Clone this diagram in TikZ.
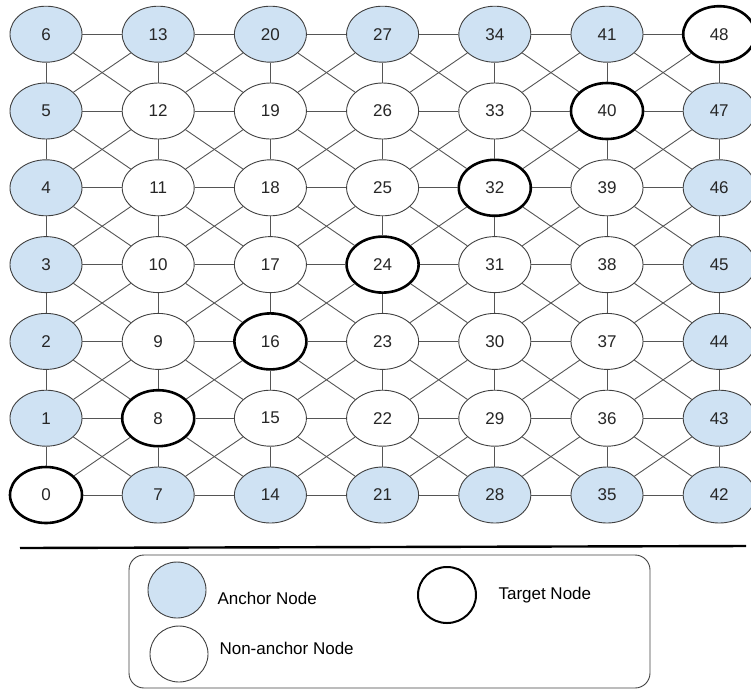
\documentclass[tikz,border=0pt]{standalone}
\usepackage{fontspec}
\setmainfont{Liberation Sans}
\usepackage{xcolor}
\usepackage{tikz}
\usetikzlibrary{shapes.geometric,positioning,calc}
\definecolor{anchorblue}{HTML}{CFE2F3}
\definecolor{linkgray}{HTML}{555555}

\begin{document}
\begin{tikzpicture}[x=1pt,y=-1pt,font=\fontsize{17}{20}\selectfont,
  vertex/.style={ellipse,draw=black!75,line width=0.9pt,fill=white,minimum width=72pt,minimum height=56pt,inner sep=0pt,text=black!85},
  anchornode/.style={vertex,fill=anchorblue},
  plainnode/.style={vertex},
  targetnode/.style={vertex,draw=black,line width=2.6pt},
  link/.style={draw=linkgray,line width=0.9pt}]
\useasboundingbox (0,0) rectangle (751,689);
\pgfmathsetmacro{\GapX}{112.2}
\pgfmathsetmacro{\GapY}{76.8}
% node i sits in column i/7, row mod(i,7) counted from the bottom
\foreach \i in {0,...,48} {
  \pgfmathtruncatemacro{\col}{\i/7}
  \pgfmathtruncatemacro{\row}{mod(\i,7)}
  \pgfmathtruncatemacro{\rim}{(\col==0)||(\col==6)||(\row==0)||(\row==6)}
  \pgfmathtruncatemacro{\diag}{\col==\row}
  \ifnum\diag=1 \def\kind{targetnode}\else\ifnum\rim=1 \def\kind{anchornode}\else\def\kind{plainnode}\fi\fi
  \node[\kind] (n\i) at ({46+\GapX*\col},{495-\GapY*\row}) {\i};
}
\foreach \c in {0,...,5} \foreach \r in {0,...,6} {
  \pgfmathtruncatemacro{\a}{7*\c+\r}
  \pgfmathtruncatemacro{\b}{\a+7}
  \draw[link] (n\a) -- (n\b);
}
\foreach \c in {0,...,6} \foreach \r in {0,...,5} {
  \pgfmathtruncatemacro{\a}{7*\c+\r}
  \pgfmathtruncatemacro{\b}{\a+1}
  \draw[link] (n\a) -- (n\b);
}
\foreach \c in {0,...,5} \foreach \r in {0,...,5} {
  \pgfmathtruncatemacro{\a}{7*\c+\r}
  \pgfmathtruncatemacro{\b}{\a+8}
  \pgfmathtruncatemacro{\p}{\a+1}
  \pgfmathtruncatemacro{\q}{\a+7}
  \draw[link] (n\a) -- (n\b);
  \draw[link] (n\p) -- (n\q);
}

\coordinate (sepL) at (20,548);
\coordinate (sepR) at (746,546);
\draw[line width=2.4pt] (sepL) -- (sepR);

\draw[draw=black!75,line width=0.9pt,rounded corners=15pt] (129,555) rectangle (650,688);
\node[anchornode,minimum width=58pt,minimum height=56pt] (keyAnchor) at (177,590) {};
\node[plainnode,minimum width=58pt,minimum height=56pt] (keyPlain) at (179,654) {};
\node[targetnode,minimum width=58pt,minimum height=56pt,line width=2pt] (keyTarget) at (447,595) {};
\node[anchor=west] (txtAnchor) at (214,598) {Anchor Node};
\node[anchor=west] (txtPlain) at (216,648) {Non-anchor Node};
\node[anchor=west] (txtTarget) at (495,595) {Target Node};
\end{tikzpicture}
\end{document}
